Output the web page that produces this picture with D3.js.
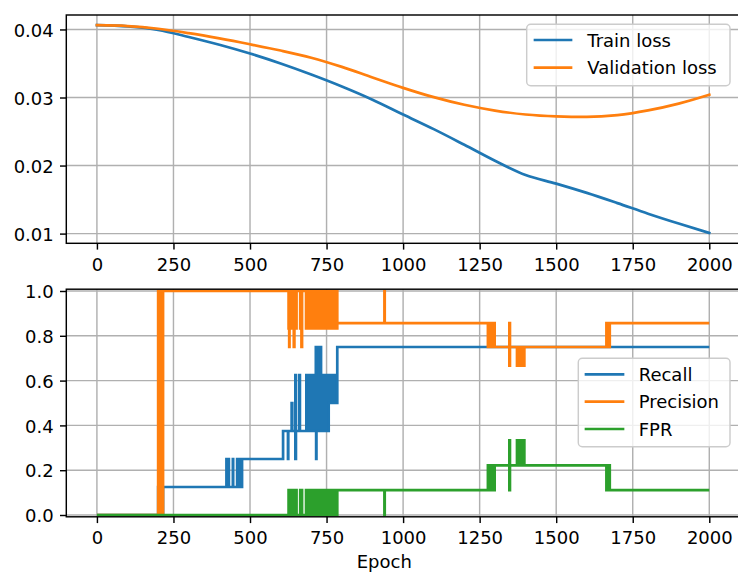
<!DOCTYPE html>
<html>
<head>
<meta charset="utf-8">
<script src="https://cdn.jsdelivr.net/npm/d3@7"></script>
<style>
  html, body { margin: 0; padding: 0; background: #ffffff; }
  svg { display: block; font-family: "DejaVu Sans", sans-serif; }
</style>
</head>
<body>
<svg id="chart" width="738" height="572"></svg>
<script>
// ---- loss curves (sampled every 100 epochs) ----
const epochs = [0, 100, 200, 300, 400, 500, 600, 700, 800, 900, 1000,
                1100, 1200, 1300, 1400, 1500, 1600, 1700, 1800, 1900, 2000];
const trainLoss = [0.04063, 0.04045, 0.03995, 0.03890, 0.03775, 0.03646, 0.03500,
                   0.03338, 0.03162, 0.02968, 0.02750, 0.02535, 0.02305, 0.02070,
                   0.01860, 0.01735, 0.01598, 0.01448, 0.01293, 0.01148, 0.01010];
const valLoss = [0.04063, 0.04050, 0.04010, 0.03945, 0.03868, 0.03782, 0.03690,
                 0.03585, 0.03450, 0.03295, 0.03142, 0.03005, 0.02893, 0.02808,
                 0.02750, 0.02722, 0.02714, 0.02740, 0.02810, 0.02910, 0.03041];
const lossSeries = ["Train loss", "Validation loss"];

// ---- classification metrics: [startEpoch, endEpoch, low, high] ----
// low == high: constant value; low < high: value flips between the two levels
const recallSegments = [
  [0, 200, 0, 0], [200, 216, 0, 0.125], [216, 423, 0.125, 0.125],
  [423, 431, 0.125, 0.25], [431, 444, 0.125, 0.125], [444, 445, 0.125, 0.25],
  [445, 458, 0.125, 0.125], [458, 474, 0.125, 0.25], [474, 608, 0.25, 0.25],
  [608, 624, 0.375, 0.375], [624, 625, 0.25, 0.375], [625, 636, 0.375, 0.375],
  [636, 638, 0.375, 0.5], [638, 648, 0.375, 0.375], [648, 650, 0.25, 0.625],
  [650, 661, 0.375, 0.375], [661, 663, 0.375, 0.625], [663, 684, 0.375, 0.375],
  [684, 715, 0.375, 0.625], [715, 716, 0.375, 0.75], [716, 717, 0.25, 0.75],
  [717, 732, 0.375, 0.75], [732, 757, 0.375, 0.625], [757, 785, 0.5, 0.625],
  [785, 2000, 0.75, 0.75]
];
const precisionSegments = [
  [0, 200, 0, 0], [200, 216, 0, 1], [216, 626, 1, 1],
  [626, 628, 0.833, 1], [628, 629, 0.75, 1], [629, 643, 0.833, 1],
  [643, 645, 0.75, 1], [645, 652, 0.833, 1], [652, 664, 1, 1],
  [664, 668, 0.833, 1], [668, 670, 0.75, 1], [670, 683, 1, 1],
  [683, 785, 0.833, 1], [785, 939, 0.857, 0.857],
  [939, 940, 0.857, 1], [940, 1277, 0.857, 0.857], [1277, 1299, 0.75, 0.857],
  [1299, 1347, 0.75, 0.75], [1347, 1349, 0.667, 0.857], [1349, 1372, 0.75, 0.75],
  [1372, 1396, 0.667, 0.75], [1396, 1664, 0.75, 0.75], [1664, 1675, 0.75, 0.857],
  [1675, 2000, 0.857, 0.857]
];
const fprSegments = [
  [0, 626, 0, 0], [626, 652, 0, 0.111], [652, 664, 0, 0],
  [664, 670, 0, 0.111], [670, 683, 0, 0], [683, 785, 0, 0.111],
  [785, 939, 0.111, 0.111], [939, 940, 0, 0.111], [940, 1277, 0.111, 0.111],
  [1277, 1299, 0.111, 0.222], [1299, 1347, 0.222, 0.222], [1347, 1349, 0.111, 0.333],
  [1349, 1372, 0.222, 0.222], [1372, 1396, 0.222, 0.333], [1396, 1664, 0.222, 0.222],
  [1664, 1675, 0.111, 0.222], [1675, 2000, 0.111, 0.111]
];
const metricSeries = ["Recall", "Precision", "FPR"];

// ---- ticks ----
const epochTicks = [0, 250, 500, 750, 1000, 1250, 1500, 1750, 2000];
const lossTicks = [0.01, 0.02, 0.03, 0.04];
const metricTicks = [0.0, 0.2, 0.4, 0.6, 0.8, 1.0];

const colors = ["#1f77b4", "#ff7f0e", "#2ca02c"];
const FONT = 18, LW = 2.7, TICK = 6.3, PAD = 6.3, SPINE = 1.44;

const svg = d3.select("#chart");
const left = 66.3, right = 739.9;
const topPanel = { top: 15.0, bottom: 243.3 };
const botPanel = { top: 289.2, bottom: 516.8 };

const x = d3.scaleLinear().domain([-100, 2100]).range([left, right]);
const yLoss = d3.scaleLinear().domain([0.008575, 0.042125]).range([topPanel.bottom, topPanel.top]);
const yMet = d3.scaleLinear().domain([-0.008, 1.008]).range([botPanel.bottom, botPanel.top]);

const defs = svg.append("defs");
function clipFor(id, p) {
  defs.append("clipPath").attr("id", id).append("rect")
    .attr("x", left).attr("y", p.top).attr("width", right - left).attr("height", p.bottom - p.top);
}
clipFor("clipTop", topPanel);
clipFor("clipBot", botPanel);

function grid(p, yScale, yTicks) {
  const g = svg.append("g").attr("stroke", "#b0b0b0").attr("stroke-width", 1.44);
  g.selectAll(".gx").data(epochTicks).join("line")
    .attr("x1", d => x(d)).attr("x2", d => x(d)).attr("y1", p.top).attr("y2", p.bottom);
  g.selectAll(".gy").data(yTicks).join("line")
    .attr("x1", left).attr("x2", right).attr("y1", d => yScale(d)).attr("y2", d => yScale(d));
}

function axes(p, yScale, yTicks, fmt) {
  const gx = svg.append("g").attr("transform", `translate(0,${p.bottom})`)
    .call(d3.axisBottom(x).tickValues(epochTicks).tickFormat(d3.format("d"))
      .tickSize(TICK).tickPadding(PAD));
  gx.selectAll("text").attr("dy", "0.82em");
  const gy = svg.append("g").attr("transform", `translate(${left},0)`)
    .call(d3.axisLeft(yScale).tickValues(yTicks).tickFormat(d3.format(fmt))
      .tickSize(TICK).tickPadding(PAD));
  gy.selectAll("text").attr("dy", "0.37em");
  [gx, gy].forEach(g => {
    g.select(".domain").remove();
    g.selectAll("line").attr("stroke", "#000").attr("stroke-width", SPINE);
    g.selectAll("text").attr("fill", "#000").style("font-size", FONT + "px")
      .style("font-family", '"DejaVu Sans", sans-serif');
  });
  svg.append("rect").attr("x", left).attr("y", p.top)
    .attr("width", right - left).attr("height", p.bottom - p.top)
    .attr("fill", "none").attr("stroke", "#000").attr("stroke-width", SPINE);
}

function legend(box, names, handle, textX, rowsY) {
  const g = svg.append("g");
  g.append("rect").attr("x", box.x).attr("y", box.y).attr("width", box.w).attr("height", box.h)
    .attr("rx", 4).attr("ry", 4)
    .attr("fill", "#ffffff").attr("fill-opacity", 0.8)
    .attr("stroke", "#cccccc").attr("stroke-width", 1.44);
  names.forEach((n, i) => {
    g.append("line").attr("x1", handle[0]).attr("x2", handle[1])
      .attr("y1", rowsY[i]).attr("y2", rowsY[i])
      .attr("stroke", colors[i]).attr("stroke-width", LW).attr("stroke-linecap", "square");
    g.append("text").attr("x", textX).attr("y", rowsY[i]).attr("dy", "0.37em")
      .style("font-size", FONT + "px").attr("fill", "#000").text(n);
  });
}

// ---- top panel: losses ----
grid(topPanel, yLoss, lossTicks);
const lossLine = d3.line().curve(d3.curveMonotoneX);
[trainLoss, valLoss].forEach((vals, i) => {
  svg.append("path")
    .attr("clip-path", "url(#clipTop)")
    .attr("d", lossLine(epochs.map((e, k) => [x(e), yLoss(vals[k])])))
    .attr("fill", "none").attr("stroke", colors[i]).attr("stroke-width", LW)
    .attr("stroke-linejoin", "round").attr("stroke-linecap", "square");
});
axes(topPanel, yLoss, lossTicks, ".2f");
legend({ x: 526.7, y: 24.3, w: 203.3, h: 61.4 }, lossSeries, [535, 571], 587.3, [40, 67.7]);

// ---- bottom panel: metrics ----
grid(botPanel, yMet, metricTicks);
const band = d3.area().curve(d3.curveStepAfter)
  .x(d => x(d.e)).y0(d => yMet(d.lo)).y1(d => yMet(d.hi));
function bandPoints(segs) {
  const pts = segs.map(s => ({ e: s[0], lo: s[2], hi: s[3] }));
  const last = segs[segs.length - 1];
  pts.push({ e: last[1], lo: last[2], hi: last[3] });
  return pts;
}
[recallSegments, precisionSegments, fprSegments].forEach((segs, i) => {
  svg.append("path")
    .attr("clip-path", "url(#clipBot)")
    .attr("d", band(bandPoints(segs)))
    .attr("fill", colors[i]).attr("stroke", colors[i]).attr("stroke-width", LW)
    .attr("stroke-linejoin", "miter");
});
axes(botPanel, yMet, metricTicks, ".1f");
legend({ x: 578.3, y: 358.3, w: 151.7, h: 88.4 }, metricSeries, [586, 623], 638.7, [374.3, 401.7, 429]);

svg.append("text").attr("x", 384.3).attr("y", 568.3).attr("text-anchor", "middle")
  .style("font-size", FONT + "px").attr("fill", "#000").text("Epoch");
</script>
</body>
</html>
